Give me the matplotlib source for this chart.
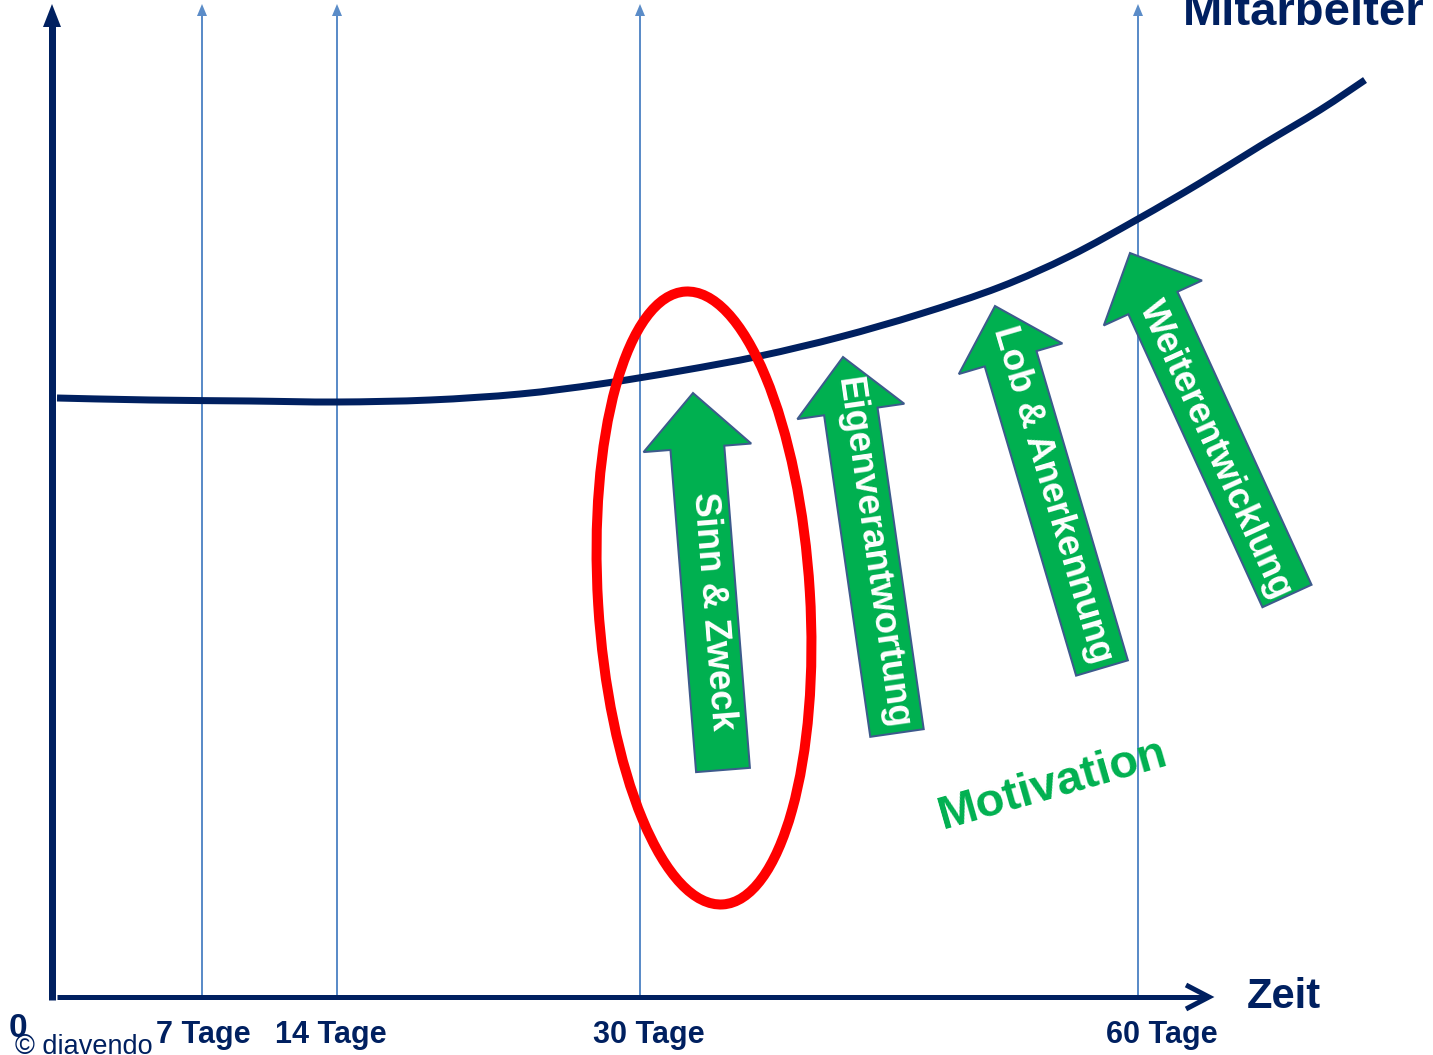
import numpy as np
import matplotlib
matplotlib.use("Agg")
import matplotlib.pyplot as plt
from matplotlib.patches import Polygon, Ellipse, PathPatch
from matplotlib.path import Path

# ---------------- data ----------------
# curve (Mitarbeiter development over time) (pixel space)
curve_x = [57, 150, 250, 337, 430, 520, 600, 680, 760, 840, 920, 1000, 1070, 1138, 1200, 1260, 1320, 1365]
curve_y = [398, 400, 401, 402, 400, 394, 384, 371, 356, 337, 314, 287, 256, 219, 183, 146, 110, 80]

# time markers
tick_labels = ["7 Tage", "14 Tage", "30 Tage", "60 Tage"]
tick_line_x = [202, 337, 640, 1138]
tick_label_x = [203, 331, 649, 1162]

# motivation arrows: label, base centre, tip
arrow_labels = ["Sinn & Zweck", "Eigenverantwortung", "Lob & Anerkennung", "Weiterentwicklung"]
arrow_base = [(723, 770), (897, 733), (1102, 668), (1287, 596)]
arrow_tip = [(693, 393), (843, 357), (995, 306), (1130, 253)]
arrow_text_center = [(713, 611), (872, 553), (1052, 495), (1215, 450)]

NAVY = "#002060"
THIN = "#5b8cc8"
GREEN = "#00b050"
EDGE = "#3d5a8c"
RED = "#ff0000"
FONT = "Liberation Sans"

fig = plt.figure(figsize=(14.33, 10.55), dpi=100)
ax = fig.add_axes([0, 0, 1, 1])
ax.set_xlim(0, 1433)
ax.set_ylim(1055, 0)
ax.axis("off")

def px(p):
    return p * 0.72

# thin vertical time lines with small arrowheads
for x in tick_line_x:
    ax.plot([x, x], [997, 14], color=THIN, lw=px(2), zorder=1, solid_capstyle="butt")
    ax.add_patch(Polygon([(x - 5, 16), (x + 5, 16), (x, 4)], closed=True,
                         facecolor=THIN, edgecolor="none", zorder=1))

# y axis (thick with arrow)
ax.plot([52, 52], [1000, 25], color=NAVY, lw=px(7), zorder=3, solid_capstyle="butt")
ax.add_patch(Polygon([(43, 27), (61, 27), (52, 4)], closed=True,
                     facecolor=NAVY, edgecolor="none", zorder=3))

# x axis with open chevron
ax.plot([57, 1208], [997, 997], color=NAVY, lw=px(5), zorder=3, solid_capstyle="butt")
ax.plot([1186, 1209, 1186], [985, 997, 1009], color=NAVY, lw=px(5), zorder=3,
        solid_joinstyle="miter", solid_capstyle="butt")

# smooth curve through the read points (Catmull-Rom -> cubic Bezier path)
P = np.column_stack([curve_x, curve_y]).astype(float)
verts = [P[0]]
codes = [Path.MOVETO]
for i in range(len(P) - 1):
    p0 = P[i - 1] if i > 0 else P[i]
    p1 = P[i]
    p2 = P[i + 1]
    p3 = P[i + 2] if i + 2 < len(P) else P[i + 1]
    c1 = p1 + (p2 - p0) / 6.0
    c2 = p2 - (p3 - p1) / 6.0
    verts += [c1, c2, p2]
    codes += [Path.CURVE4] * 3
ax.add_patch(PathPatch(Path(verts, codes), fill=False, edgecolor=NAVY,
                       lw=px(7), zorder=4, capstyle="butt"))

# red ellipse
ax.add_patch(Ellipse((704, 598), width=212, height=614, angle=-3.5,
                     fill=False, edgecolor=RED, lw=px(10), zorder=5))

# green arrows
def fat_arrow(base, tip, shaft_w=54, head_w=108, head_l=55):
    b = np.array(base, float)
    t = np.array(tip, float)
    d = t - b
    L = np.linalg.norm(d)
    u = d / L
    n = np.array([-u[1], u[0]])
    hb = t - u * head_l
    pts = [b + n * shaft_w / 2, hb + n * shaft_w / 2, hb + n * head_w / 2, t,
           hb - n * head_w / 2, hb - n * shaft_w / 2, b - n * shaft_w / 2]
    return pts

for lab, b, t, c in zip(arrow_labels, arrow_base, arrow_tip, arrow_text_center):
    ax.add_patch(Polygon(fat_arrow(b, t), closed=True, facecolor=GREEN,
                         edgecolor=EDGE, lw=px(2), zorder=6, joinstyle="miter"))
    dx = b[0] - t[0]
    dy = b[1] - t[1]
    rot = np.degrees(np.arctan2(-dy, dx))
    ax.text(c[0], c[1], lab, rotation=rot, rotation_mode="anchor", ha="center",
            va="center", color="white", fontsize=26.5, fontweight="bold",
            family=FONT, zorder=7)

# texts
ax.text(1425, 25, "Mitarbeiter", ha="right", va="baseline", color=NAVY,
        fontsize=34, fontweight="bold", family=FONT, zorder=8)
ax.text(1247, 1008, "Zeit", ha="left", va="baseline", color=NAVY,
        fontsize=30, fontweight="bold", family=FONT, zorder=8)
for lab, x in zip(tick_labels, tick_label_x):
    ax.text(x, 1043, lab, ha="center", va="baseline", color=NAVY,
            fontsize=22, fontweight="bold", family=FONT, zorder=8)
ax.text(9, 1037, "0", ha="left", va="baseline", color=NAVY,
        fontsize=24, fontweight="bold", family=FONT, zorder=8)
ax.text(15, 1054, "\u00a9 diavendo", ha="left", va="baseline", color=NAVY,
        fontsize=19.5, family=FONT, zorder=9)
ax.text(1053, 785, "Motivation", rotation=16, rotation_mode="anchor",
        ha="center", va="center", color=GREEN, fontsize=34, fontweight="bold",
        family=FONT, zorder=8)

fig.savefig("out.png", dpi=100)
